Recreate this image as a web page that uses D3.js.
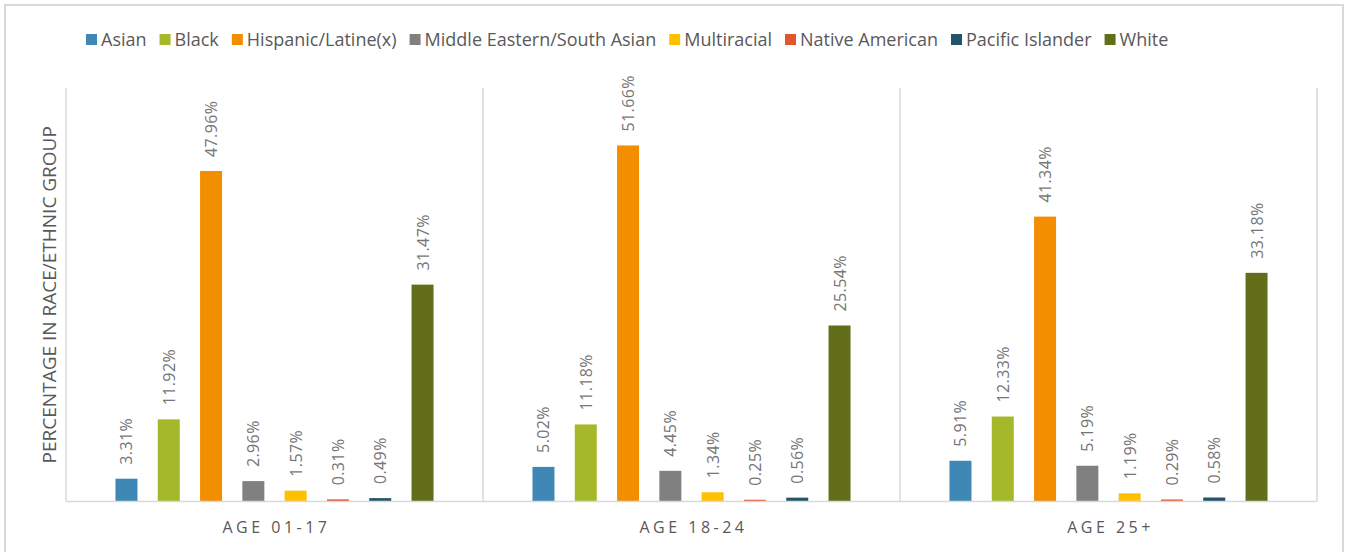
<!DOCTYPE html>
<html>
<head>
<meta charset="utf-8">
<script src="https://cdn.jsdelivr.net/npm/d3@7"></script>
<style>
  html, body { margin: 0; padding: 0; background: #fff; }
  svg { display: block; font-family: "Open Sans", "Liberation Sans", sans-serif; }
</style>
</head>
<body>
<svg id="chart" width="1346" height="552"></svg>
<script>
const groups = ["AGE 01-17", "AGE 18-24", "AGE 25+"];
const series = ["Asian", "Black", "Hispanic/Latine(x)", "Middle Eastern/South Asian", "Multiracial", "Native American", "Pacific Islander", "White"];
const colors = ["#3F87B5", "#A5B82A", "#F28E00", "#808080", "#FFC000", "#E3562A", "#24546C", "#636E1A"];
const age0117 = [3.31, 11.92, 47.96, 2.96, 1.57, 0.31, 0.49, 31.47];
const age1824 = [5.02, 11.18, 51.66, 4.45, 1.34, 0.25, 0.56, 25.54];
const age25 = [5.91, 12.33, 41.34, 5.19, 1.19, 0.29, 0.58, 33.18];
const values = [age0117, age1824, age25];
const yAxisTitle = "PERCENTAGE IN RACE/ETHNIC GROUP";

const svg = d3.select("#chart");

// outer frame
svg.append("rect").attr("x", 5).attr("y", 5).attr("width", 1338).attr("height", 560)
  .attr("fill", "#fff").attr("stroke", "#d9d9d9").attr("stroke-width", 2);

const plot = { left: 66, right: 1317, top: 88, bottom: 501.5 };

const x0 = d3.scaleBand().domain(groups).range([plot.left, plot.right]).padding(0);
const gw = x0.bandwidth();
const x1 = d3.scaleBand().domain(series)
  .range([gw * 0.0943, gw * 0.9057]).paddingInner(0.48).paddingOuter(0.24);
const y = d3.scaleLinear().domain([0, 60]).range([plot.bottom, plot.top]);

// group separators / axis lines
const seps = groups.map(g => x0(g)).concat([plot.right]);
svg.append("g").selectAll("line").data(seps).join("line")
  .attr("x1", d => d).attr("x2", d => d)
  .attr("y1", plot.top).attr("y2", plot.bottom)
  .attr("stroke", "#d9d9d9").attr("stroke-width", 1.5);

// bars
const gs = svg.append("g").selectAll("g").data(groups).join("g")
  .attr("transform", g => `translate(${x0(g)},0)`);

gs.selectAll("rect").data((g, gi) => series.map((s, si) => ({ s, si, v: values[gi][si] })))
  .join("rect")
  .attr("x", d => x1(d.s))
  .attr("width", x1.bandwidth())
  .attr("y", d => y(d.v))
  .attr("height", d => y(0) - y(d.v))
  .attr("fill", d => colors[d.si]);

// value labels
gs.selectAll("text").data((g, gi) => series.map((s, si) => ({ s, si, v: values[gi][si] })))
  .join("text")
  .attr("transform", d => `translate(${x1(d.s) + x1.bandwidth() / 2 + 6},${y(d.v) - 14}) rotate(-90)`)
  .attr("text-anchor", "start")
  .attr("font-size", 16)
  .attr("letter-spacing", 0.4)
  .attr("fill", "#767676")
  .text(d => d.v.toFixed(2) + "%");

// baseline
svg.append("line").attr("x1", plot.left).attr("x2", plot.right)
  .attr("y1", plot.bottom).attr("y2", plot.bottom)
  .attr("stroke", "#d9d9d9").attr("stroke-width", 1.5);

// category labels
svg.append("g").selectAll("text").data(groups).join("text")
  .attr("x", g => x0(g) + gw / 2 + 2)
  .attr("y", 533)
  .attr("text-anchor", "middle")
  .attr("font-size", 16)
  .attr("letter-spacing", 3.5)
  .attr("fill", "#595959")
  .text(g => g);

// y axis title
svg.append("text")
  .attr("transform", `translate(56,${(plot.top + plot.bottom) / 2}) rotate(-90)`)
  .attr("text-anchor", "middle")
  .attr("font-size", 19)
  .attr("fill", "#595959")
  .text(yAxisTitle);

// legend
const leg = svg.append("g");
let lx = 86;
series.forEach((s, i) => {
  leg.append("rect").attr("x", lx).attr("y", 34).attr("width", 11).attr("height", 11).attr("fill", colors[i]);
  const t = leg.append("text").attr("x", lx + 15).attr("y", 46)
    .attr("font-size", 18).attr("fill", "#595959").text(s);
  lx += 15 + t.node().getComputedTextLength() + 13;
});
</script>
</body>
</html>
